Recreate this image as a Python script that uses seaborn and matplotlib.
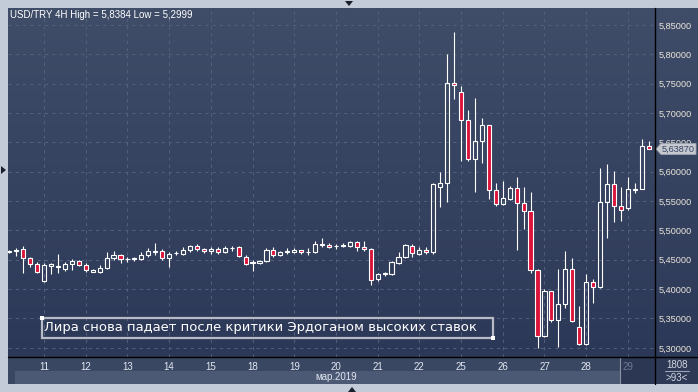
import numpy as np
import pandas as pd
import seaborn as sns
import matplotlib
matplotlib.use("Agg")
import matplotlib.pyplot as plt
from matplotlib.patches import Rectangle, Polygon
from matplotlib.colors import LinearSegmentedColormap

# ---------------- data (USD/TRY, 4H candles) ----------------
opens = [5.4630, 5.4650, 5.4678, 5.4525, 5.4428, 5.4144, 5.4400, 5.4375, 5.4343, 5.4423,
         5.4479, 5.4411, 5.4298, 5.4298, 5.4354, 5.4525, 5.4576, 5.4510, 5.4510, 5.4519,
         5.4576, 5.4633, 5.4644, 5.4530, 5.4610, 5.4599, 5.4661, 5.4735, 5.4684, 5.4644,
         5.4678, 5.4627, 5.4695, 5.4718, 5.4553, 5.4450, 5.4440, 5.4474, 5.4667, 5.4587,
         5.4627, 5.4638, 5.4661, 5.4627, 5.4627, 5.4752, 5.4752, 5.4730, 5.4741, 5.4740,
         5.4797, 5.4712, 5.4678, 5.4167, 5.4258, 5.4252, 5.4451, 5.4553, 5.4735, 5.4604,
         5.4661, 5.4628, 5.5734, 5.5802, 5.7506, 5.7353, 5.6876, 5.6210, 5.6518, 5.6790,
         5.5683, 5.5445, 5.5535, 5.5717, 5.5462, 5.5326, 5.4326, 5.3202, 5.3968, 5.3474,
         5.3747, 5.4337, 5.3349, 5.3065, 5.4116, 5.4030, 5.5485, 5.5791, 5.5422, 5.5388,
         5.5695, 5.5700, 5.6439]
highs = [5.4672, 5.4700, 5.4735, 5.4553, 5.4457, 5.4451, 5.4451, 5.4599, 5.4457, 5.4519,
         5.4496, 5.4440, 5.4343, 5.4411, 5.4627, 5.4644, 5.4593, 5.4553, 5.4553, 5.4627,
         5.4695, 5.4780, 5.4678, 5.4633, 5.4650, 5.4712, 5.4758, 5.4763, 5.4700, 5.4718,
         5.4712, 5.4735, 5.4735, 5.4741, 5.4582, 5.4496, 5.4490, 5.4707, 5.4712, 5.4650,
         5.4695, 5.4695, 5.4667, 5.4707, 5.4815, 5.4866, 5.4780, 5.4769, 5.4786, 5.4826,
         5.4826, 5.4815, 5.4695, 5.4280, 5.4298, 5.4474, 5.4627, 5.4769, 5.4769, 5.4724,
         5.4712, 5.5800, 5.5990, 5.8006, 5.8384, 5.7460, 5.7052, 5.7256, 5.6915, 5.6800,
         5.5808, 5.5842, 5.5757, 5.5910, 5.5735, 5.5649, 5.4337, 5.3997, 5.3968, 5.4343,
         5.4650, 5.4530, 5.3713, 5.4258, 5.4173, 5.6070, 5.6138, 5.6013, 5.5734, 5.5905,
         5.5814, 5.6558, 5.6524]
lows = [5.4616, 5.4565, 5.4280, 5.4383, 5.4269, 5.4122, 5.4252, 5.4269, 5.4303, 5.4320,
        5.4389, 5.4292, 5.4286, 5.4269, 5.4337, 5.4496, 5.4451, 5.4468, 5.4485, 5.4496,
        5.4553, 5.4576, 5.4490, 5.4383, 5.4576, 5.4576, 5.4627, 5.4655, 5.4610, 5.4604,
        5.4593, 5.4610, 5.4655, 5.4542, 5.4417, 5.4315, 5.4434, 5.4462, 5.4553, 5.4565,
        5.4599, 5.4610, 5.4604, 5.4587, 5.4610, 5.4724, 5.4695, 5.4678, 5.4712, 5.4712,
        5.4655, 5.4655, 5.4065, 5.4133, 5.4224, 5.4240, 5.4423, 5.4536, 5.4542, 5.4587,
        5.4604, 5.4599, 5.5405, 5.5490, 5.7239, 5.6188, 5.6188, 5.5660, 5.6154, 5.5535,
        5.5422, 5.5433, 5.5518, 5.4667, 5.5025, 5.4269, 5.2999, 5.3191, 5.3446, 5.3009,
        5.3684, 5.3446, 5.3054, 5.3054, 5.3770, 5.4014, 5.4866, 5.5138, 5.5167, 5.5348,
        5.5644, 5.5700, 5.6387]
closes = [5.4655, 5.4660, 5.4525, 5.4423, 5.4286, 5.4411, 5.4423, 5.4395, 5.4423, 5.4485,
          5.4406, 5.4320, 5.4332, 5.4354, 5.4525, 5.4582, 5.4514, 5.4520, 5.4525, 5.4582,
          5.4650, 5.4650, 5.4530, 5.4604, 5.4621, 5.4667, 5.4740, 5.4684, 5.4650, 5.4684,
          5.4627, 5.4701, 5.4707, 5.4565, 5.4428, 5.4462, 5.4479, 5.4667, 5.4587, 5.4638,
          5.4644, 5.4661, 5.4627, 5.4633, 5.4769, 5.4769, 5.4712, 5.4735, 5.4752, 5.4797,
          5.4712, 5.4678, 5.4156, 5.4258, 5.4269, 5.4457, 5.4542, 5.4752, 5.4610, 5.4661,
          5.4627, 5.5786, 5.5802, 5.7506, 5.7472, 5.6876, 5.6210, 5.6518, 5.6790, 5.5683,
          5.5445, 5.5547, 5.5717, 5.5462, 5.5326, 5.4326, 5.3202, 5.3968, 5.3469, 5.3740,
          5.4337, 5.3463, 5.3065, 5.4116, 5.4030, 5.5485, 5.5791, 5.5422, 5.5354, 5.5700,
          5.5705, 5.6439, 5.6387]
bar_days = ([8] * 5 + [11] * 6 + [12] * 6 + [13] * 6 + [14] * 6 + [15] * 6 + [18] * 6 +
            [19] * 6 + [20] * 6 + [21] * 6 + [22] * 6 + [25] * 6 + [26] * 6 + [27] * 6 +
            [28] * 6 + [29] * 4)
day_labels = ["11", "12", "13", "14", "15", "18", "19", "20", "21", "22",
              "25", "26", "27", "28", "29"]
price_ticks = [5.30, 5.35, 5.40, 5.45, 5.50, 5.55, 5.60, 5.65, 5.70, 5.75, 5.80, 5.85]
last_price = 5.63870
title = "USD/TRY 4H High = 5,8384 Low = 5,2999"
month_label = "мар.2019"
note = "Лира снова падает после критики Эрдоганом высоких ставок"

df = pd.DataFrame({"open": opens, "high": highs, "low": lows, "close": closes, "day": bar_days})
df["bar"] = np.arange(len(df))
df["top"] = df[["open", "close"]].max(axis=1)
df["bot"] = df[["open", "close"]].min(axis=1)
df["bear"] = df["close"] < df["open"]

# ---------------- style ----------------
sns.set_theme(style="dark")
plt.rcParams["font.family"] = ["Liberation Sans", "DejaVu Sans"]

W, H = 698, 392
fig = plt.figure(figsize=(W / 100, H / 100), dpi=100)
fig.patch.set_facecolor("#c3cad8")

# background layer in pixel coords
bg = fig.add_axes([0, 0, 1, 1], zorder=-5)
bg.axis("off")
grad = np.linspace(0, 1, 256)[:, None]
cmap = LinearSegmentedColormap.from_list("g", ["#3f4d69", "#2c3857"])
bg.imshow(grad, extent=(8, 698, 357, 8), cmap=cmap, aspect="auto", interpolation="bilinear")
bg.add_patch(Rectangle((8, 357), 647, 27, facecolor="#3a4763", edgecolor="none"))
bg.add_patch(Rectangle((15, 371), 640, 13, facecolor="#4b5975", edgecolor="none"))
bg.add_patch(Rectangle((621, 357), 34, 27, facecolor="#2c3853", edgecolor="none"))
bg.plot([620, 620], [358, 383], color="#8a93a6", lw=0.8)
bg.add_patch(Rectangle((655, 357), 43, 27, facecolor="#2d3955", edgecolor="none"))
bg.set_xlim(0, W)
bg.set_ylim(H, 0)

# main price axes
ax = fig.add_axes([8 / W, (H - 357) / H, 647 / W, 349 / H], zorder=1)
ax.set_facecolor("none")
for s in ax.spines.values():
    s.set_visible(False)

day_starts = df.groupby("day")["bar"].min().loc[[int(d) for d in day_labels]].values
ax.set_xticks(day_starts)
ax.set_xticklabels(day_labels)
ax.set_yticks(price_ticks)
ax.set_yticklabels([f"{v:.5f}".replace(".", ",") for v in price_ticks])
ax.yaxis.tick_right()
ax.grid(True, color="#52607c", linestyle=(0, (3, 4)), linewidth=0.75)
ax.tick_params(axis="y", length=0, pad=2.5, labelsize=6.6, labelcolor="#ebe6da")
ax.tick_params(axis="x", length=0, pad=3.5, labelsize=7, labelcolor="#e3e8f1")
ax.get_xticklabels()[-1].set_color("#6d7a94")

# wicks
ax.vlines(df["bar"], df["top"], df["high"], color="white", lw=0.8, zorder=3)
ax.vlines(df["bar"], df["low"], df["bot"], color="white", lw=0.8, zorder=3)
# bodies
heights = np.maximum(df["top"] - df["bot"], 0.0002)
ax.bar(df["bar"], heights, bottom=df["bot"], width=0.6,
       color=["#dc143c" if b else "none" for b in df["bear"]],
       edgecolor="white", linewidth=0.8, zorder=4)

ax.set_xlim(-0.187, 92.906)
ax.set_ylim(5.2844, 5.8790)

# overlay layer (pixel coords)
ov = fig.add_axes([0, 0, 1, 1], zorder=5)
ov.axis("off")
ov.set_facecolor("none")
ov.set_xlim(0, W)
ov.set_ylim(H, 0)

ov.plot([655, 655], [8, 384], color="black", lw=1.0)
ov.plot([8, 698], [357, 357], color="black", lw=1.0)

ov.text(10, 14.5, title, color="white", fontsize=7, va="center", ha="left")

# month label
ov.text(336, 377.5, month_label, color="#e1e6ef", fontsize=7, va="center", ha="center")

# bottom-right info box
ov.text(677, 364.5, "1808", color="#d3d7e2", fontsize=7, va="center", ha="center")
ov.plot([665, 689], [371, 371], color="#9aa2b4", lw=0.8)
ov.text(677, 378, ">93<", color="#d3d7e2", fontsize=7, va="center", ha="center")

# current price tag
ytag = 25 + (5.85 - last_price) * 587
ov.add_patch(Polygon([(656, ytag), (661, ytag - 5.5), (696, ytag - 5.5), (696, ytag + 5.5), (661, ytag + 5.5)],
                     closed=True, facecolor="#c5c8cf", edgecolor="#9ea3ad", lw=0.6))
ov.text(662, ytag, f"{last_price:.5f}".replace(".", ","), color="#344463", fontsize=6.6,
        va="center", ha="left")

# annotation box
ov.add_patch(Rectangle((42, 318), 451, 19.5, fill=False, edgecolor="#b6bbc5", lw=1.6))
ov.add_patch(Rectangle((40, 316), 4, 4, facecolor="white", edgecolor="none"))
ov.add_patch(Rectangle((491, 335.5), 4, 4, facecolor="white", edgecolor="none"))
ov.text(44, 327.5, note, color="white", fontsize=9.45, va="center", ha="left",
        family=["DejaVu Sans"])

# chart shift markers
ov.add_patch(Polygon([(345, 1), (353, 1), (349, 6)], closed=True, facecolor="#1a1f2a", edgecolor="none"))
ov.add_patch(Polygon([(348, 392), (356, 392), (352, 387)], closed=True, facecolor="#1a1f2a", edgecolor="none"))
ov.add_patch(Polygon([(1, 166), (1, 174), (6, 170)], closed=True, facecolor="#1a1f2a", edgecolor="none"))

fig.savefig("out.png", dpi=100)
